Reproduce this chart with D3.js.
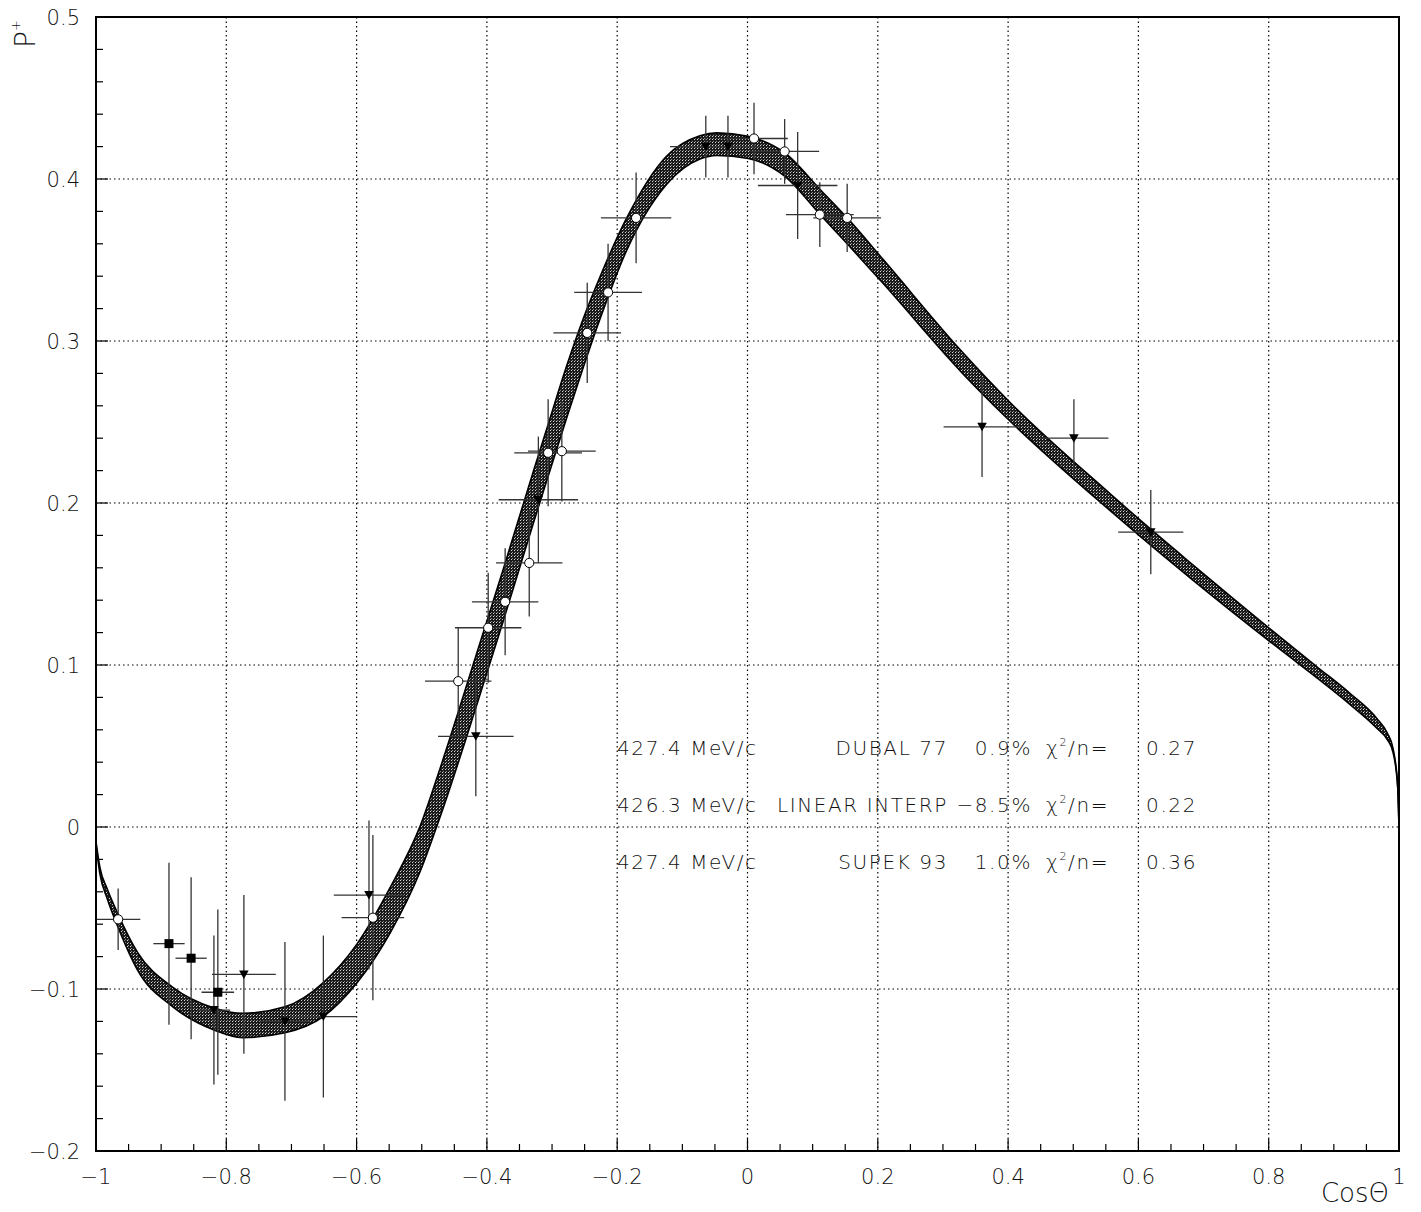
<!DOCTYPE html>
<html>
<head>
<meta charset="utf-8">
<script src="https://cdn.jsdelivr.net/npm/d3@7"></script>
<style>
  body { margin: 0; background: #fff; }
  text { font-family: "DejaVu Sans", sans-serif; font-weight: 200; fill: #111; }
</style>
</head>
<body>
<svg id="chart"></svg>
<script>
// shaded curve: centre and half width (P units) along cos(theta)
const bandX  = [-1.0, -0.994, -0.983, -0.966, -0.936, -0.882, -0.819, -0.775, -0.710, -0.651, -0.599, -0.548, -0.502, -0.472, -0.415, -0.375, -0.326, -0.306, -0.276, -0.251, -0.226, -0.186, -0.124, -0.073, -0.047, 0.001, 0.057, 0.111, 0.153, 0.208, 0.329, 0.400, 0.558, 0.601, 0.684, 0.822, 0.874, 0.925, 0.966, 0.982, 0.991, 0.998, 1.0];
const bandY  = [-0.010, -0.027, -0.041, -0.058, -0.083, -0.105, -0.1185, -0.1225, -0.119, -0.1065, -0.084, -0.051, -0.013, 0.021, 0.092, 0.143, 0.207, 0.2325, 0.2705, 0.300, 0.327, 0.3655, 0.4055, 0.4195, 0.4215, 0.4195, 0.409, 0.386, 0.368, 0.343, 0.287, 0.2575, 0.200, 0.185, 0.157, 0.112, 0.0955, 0.079, 0.064, 0.056, 0.047, 0.025, 0.0];
const bandHW = [0.001, 0.002, 0.003, 0.004, 0.0055, 0.006, 0.0068, 0.0075, 0.008, 0.0105, 0.012, 0.014, 0.014, 0.015, 0.016, 0.016, 0.016, 0.016, 0.016, 0.015, 0.013, 0.010, 0.0087, 0.0072, 0.007, 0.0068, 0.0072, 0.0077, 0.008, 0.0074, 0.0065, 0.0058, 0.0052, 0.005, 0.0047, 0.0038, 0.0034, 0.0034, 0.003, 0.002, 0.0012, 0.0005, 0];

// data points: [cos, P, dcos, dP]
const circles = [
  [-0.966, -0.057, 0.034, 0.019],
  [-0.575, -0.056, 0.048, 0.051],
  [-0.444, 0.090, 0.051, 0.033],
  [-0.398, 0.123, 0.051, 0.034],
  [-0.372, 0.139, 0.051, 0.033],
  [-0.335, 0.163, 0.051, 0.033],
  [-0.306, 0.231, 0.052, 0.033],
  [-0.285, 0.232, 0.052, 0.031],
  [-0.246, 0.305, 0.052, 0.031],
  [-0.214, 0.330, 0.052, 0.030],
  [-0.171, 0.376, 0.054, 0.028],
  [0.010, 0.425, 0.052, 0.022],
  [0.057, 0.417, 0.053, 0.020],
  [0.111, 0.378, 0.052, 0.020],
  [0.153, 0.376, 0.052, 0.021]
];
const triangles = [
  [-0.819, -0.113, 0.025, 0.046],
  [-0.773, -0.091, 0.049, 0.049],
  [-0.710, -0.120, 0.039, 0.049],
  [-0.651, -0.117, 0.051, 0.050],
  [-0.581, -0.042, 0.054, 0.046],
  [-0.417, 0.056, 0.058, 0.037],
  [-0.321, 0.202, 0.061, 0.039],
  [-0.064, 0.420, 0.055, 0.019],
  [-0.030, 0.420, 0.051, 0.019],
  [0.077, 0.396, 0.061, 0.033],
  [0.360, 0.247, 0.059, 0.031],
  [0.501, 0.240, 0.053, 0.024],
  [0.619, 0.182, 0.050, 0.026]
];
const squares = [
  [-0.888, -0.072, 0.024, 0.050],
  [-0.854, -0.081, 0.024, 0.050],
  [-0.813, -0.102, 0.025, 0.051]
];

const xTicks = [-1, -0.8, -0.6, -0.4, -0.2, 0, 0.2, 0.4, 0.6, 0.8, 1];
const xTickLabels = ["\u22121", "\u22120.8", "\u22120.6", "\u22120.4", "\u22120.2", "0", "0.2", "0.4", "0.6", "0.8", "1"];
const yTicks = [-0.2, -0.1, 0, 0.1, 0.2, 0.3, 0.4, 0.5];
const yTickLabels = ["\u22120.2", "\u22120.1", "0", "0.1", "0.2", "0.3", "0.4", "0.5"];

const fitMomenta = ["427.4 MeV/c", "426.3 MeV/c", "427.4 MeV/c"];
const fitNames = ["DUBAL 77", "LINEAR INTERP", "SUPEK 93"];
const fitShifts = ["0.9%", "\u22128.5%", "1.0%"];
const fitChi2 = ["0.27", "0.22", "0.36"];

const W = 1421, H = 1212;
const pLeft = 96, pRight = 1399, pTop = 17, pBottom = 1151;

const svg = d3.select("#chart").attr("width", W).attr("height", H);

const x = d3.scaleLinear().domain([-1, 1]).range([pLeft, pRight]);
const y = d3.scaleLinear().domain([-0.2, 0.5]).range([pBottom, pTop]);

// pattern for the band
const defs = svg.append("defs");
const pat = defs.append("pattern")
  .attr("id", "dots").attr("width", 3).attr("height", 3)
  .attr("patternUnits", "userSpaceOnUse");
pat.append("rect").attr("width", 3).attr("height", 3).attr("fill", "#1a1a1a");
pat.append("rect").attr("x", 1).attr("y", 1).attr("width", 1).attr("height", 1).attr("fill", "#d8d8d8");
pat.append("rect").attr("x", 2).attr("y", 0).attr("width", 1).attr("height", 1).attr("fill", "#8a8a8a");
defs.append("clipPath").attr("id", "plotclip")
  .append("rect").attr("x", pLeft).attr("y", pTop).attr("width", pRight - pLeft).attr("height", pBottom - pTop);

// grid
const grid = svg.append("g").attr("stroke", "#000").attr("stroke-width", 1.2).attr("stroke-dasharray", "1.5,3");
grid.selectAll(".gx").data(xTicks.slice(1, -1)).enter().append("line")
  .attr("x1", d => x(d)).attr("x2", d => x(d)).attr("y1", pTop).attr("y2", pBottom);
grid.selectAll(".gy").data(yTicks.slice(1, -1)).enter().append("line")
  .attr("x1", pLeft).attr("x2", pRight).attr("y1", d => y(d)).attr("y2", d => y(d));

// band
const band = bandX.map((v, i) => ({x: v, c: bandY[i], hw: bandHW[i]}));
const bandG = svg.append("g").attr("clip-path", "url(#plotclip)");
bandG.append("path")
  .datum(band)
  .attr("d", d3.area().x(d => x(d.x)).y0(d => y(d.c - d.hw)).y1(d => y(d.c + d.hw)).curve(d3.curveMonotoneX))
  .attr("fill", "url(#dots)");
[-1, 1].forEach(s => {
  bandG.append("path")
    .datum(band)
    .attr("d", d3.line().x(d => x(d.x)).y(d => y(d.c + s * d.hw)).curve(d3.curveMonotoneX))
    .attr("fill", "none").attr("stroke", "#000").attr("stroke-width", 1.6);
});

// error bars
const allPts = circles.concat(triangles, squares);
const err = svg.append("g").attr("stroke", "#333").attr("stroke-width", 1.3).attr("clip-path", "url(#plotclip)");
err.selectAll(".ex").data(allPts).enter().append("line")
  .attr("x1", d => x(d[0] - d[2])).attr("x2", d => x(d[0] + d[2]))
  .attr("y1", d => y(d[1])).attr("y2", d => y(d[1]));
err.selectAll(".ey").data(allPts).enter().append("line")
  .attr("x1", d => x(d[0])).attr("x2", d => x(d[0]))
  .attr("y1", d => y(d[1] - d[3])).attr("y2", d => y(d[1] + d[3]));

// markers
svg.append("g").selectAll("circle").data(circles).enter().append("circle")
  .attr("cx", d => x(d[0])).attr("cy", d => y(d[1])).attr("r", 4.6)
  .attr("fill", "#fff").attr("stroke", "#000").attr("stroke-width", 1);
svg.append("g").selectAll("path").data(triangles).enter().append("path")
  .attr("d", d => {
    const px = x(d[0]), py = y(d[1]);
    return `M${px - 4.8},${py - 4}L${px + 4.8},${py - 4}L${px},${py + 4.5}Z`;
  })
  .attr("fill", "#000");
svg.append("g").selectAll("rect").data(squares).enter().append("rect")
  .attr("x", d => x(d[0]) - 4.5).attr("y", d => y(d[1]) - 4.5)
  .attr("width", 9).attr("height", 9).attr("fill", "#000");

// frame and ticks
svg.append("rect").attr("x", pLeft).attr("y", pTop).attr("width", pRight - pLeft).attr("height", pBottom - pTop)
  .attr("fill", "none").attr("stroke", "#000").attr("stroke-width", 2);

const ticks = svg.append("g").attr("stroke", "#000").attr("stroke-width", 1.2);
const xMinor = d3.range(0, 41).map(i => -1 + i * 0.05);
const yMinor = d3.range(0, 36).map(i => -0.2 + i * 0.02);
ticks.selectAll(".tx").data(xMinor).enter().append("line")
  .attr("x1", d => x(d)).attr("x2", d => x(d))
  .attr("y1", pBottom).attr("y2", (d, i) => pBottom - (i % 4 === 0 ? 12 : 7));
ticks.selectAll(".ty").data(yMinor).enter().append("line")
  .attr("x1", pLeft).attr("x2", (d, i) => pLeft + (i % 5 === 0 ? 12 : 7))
  .attr("y1", d => y(d)).attr("y2", d => y(d));

// tick labels
svg.append("g").selectAll("text").data(xTicks).enter().append("text")
  .attr("x", d => x(d)).attr("y", 1184)
  .attr("text-anchor", "middle").attr("font-size", 21)
  .text((d, i) => xTickLabels[i]);
svg.append("g").selectAll("text").data(yTicks).enter().append("text")
  .attr("x", 80).attr("y", d => y(d) + 8)
  .attr("text-anchor", "end").attr("font-size", 21)
  .text((d, i) => yTickLabels[i]);

// axis titles
svg.append("text").attr("x", 1389).attr("y", 1202)
  .attr("text-anchor", "end").attr("font-size", 26).text("Cos\u0398");
const yt = svg.append("text").attr("transform", "translate(35,48) rotate(-90)")
  .attr("font-size", 28);
yt.append("tspan").text("P");
yt.append("tspan").attr("font-size", 13).attr("dy", -15).text("+");

// fit summary
const rowsY = [755, 812, 869];
const info = svg.append("g").attr("font-size", 20).attr("letter-spacing", 1.6);
fitMomenta.forEach((m, i) => {
  info.append("text").attr("x", 617).attr("y", rowsY[i]).text(m);
  info.append("text").attr("x", 948).attr("y", rowsY[i]).attr("text-anchor", "end").text(fitNames[i]);
  info.append("text").attr("x", 1032).attr("y", rowsY[i]).attr("text-anchor", "end").text(fitShifts[i]);
  const c = info.append("text").attr("x", 1046).attr("y", rowsY[i]);
  c.append("tspan").text("\u03c7");
  c.append("tspan").attr("font-size", 11).attr("dy", -9).text("2");
  c.append("tspan").attr("dy", 9).text("/n=");
  info.append("text").attr("x", 1197).attr("y", rowsY[i]).attr("text-anchor", "end").text(fitChi2[i]);
});
</script>
</body>
</html>
